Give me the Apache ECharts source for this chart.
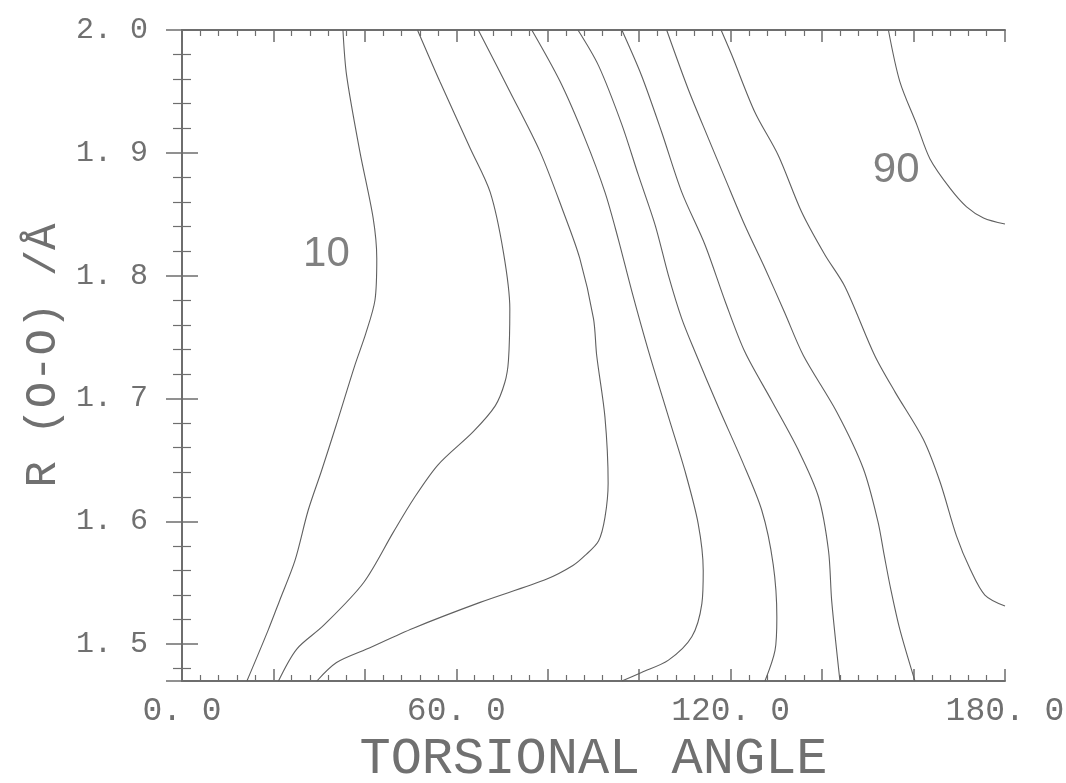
<!DOCTYPE html>
<html>
<head>
<meta charset="utf-8">
<title>Torsional angle contour</title>
<script src="https://cdn.jsdelivr.net/npm/echarts@6/dist/echarts.min.js"></script>
<style>
  html, body { margin: 0; padding: 0; background: #fff; }
  #chart { width: 1066px; height: 783px; }
</style>
</head>
<body>
<div id="chart"></div>
<script>
// contour lines: [torsional angle, R(O-O)]
const contour10 = [[35.2, 2.0], [36.0, 1.963], [38.9, 1.901], [41.8, 1.847], [42.6, 1.814], [42.2, 1.78], [40.2, 1.753], [37.8, 1.727], [33.7, 1.678], [30.5, 1.641], [27.6, 1.609], [24.7, 1.568], [21.4, 1.536], [18.8, 1.511], [14.2, 1.47]];
const contour20 = [[51.5, 2.0], [56.4, 1.958], [63.0, 1.904], [67.4, 1.868], [70.3, 1.819], [71.7, 1.773], [71.4, 1.731], [70.6, 1.713], [68.5, 1.694], [63.7, 1.673], [56.0, 1.646], [50.6, 1.618], [46.2, 1.591], [39.7, 1.55], [30.9, 1.515], [25.1, 1.496], [21.1, 1.47]];
const contour30 = [[64.8, 2.0], [71.7, 1.95], [78.3, 1.901], [83.4, 1.852], [87.0, 1.814], [90.0, 1.765], [90.7, 1.735], [92.5, 1.685], [93.2, 1.631], [92.5, 1.603], [91.1, 1.584], [88.1, 1.572], [85.5, 1.564], [79.8, 1.553], [65.2, 1.534], [50.6, 1.513], [40.4, 1.496], [33.8, 1.485], [29.5, 1.47]];
const contour40 = [[76.5, 2.0], [82.7, 1.958], [88.1, 1.912], [92.5, 1.868], [95.4, 1.83], [98.4, 1.787], [102.0, 1.739], [106.4, 1.685], [110.0, 1.641], [112.9, 1.598], [114.0, 1.56], [113.7, 1.533], [111.5, 1.506], [106.4, 1.487], [100.5, 1.477], [96.2, 1.47]];
const contour50 = [[86.6, 2.0], [91.1, 1.971], [96.2, 1.923], [99.8, 1.882], [103.5, 1.841], [106.4, 1.8], [109.3, 1.765], [112.2, 1.738], [117.3, 1.693], [122.4, 1.65], [126.8, 1.609], [129.3, 1.565], [130.1, 1.522], [129.7, 1.495], [127.5, 1.47]];
const contour60 = [[96.2, 2.0], [100.5, 1.963], [104.9, 1.917], [109.3, 1.868], [114.4, 1.825], [118.8, 1.779], [123.1, 1.738], [129.0, 1.698], [134.8, 1.658], [139.2, 1.62], [141.4, 1.576], [142.1, 1.535], [143.9, 1.47]];
const contour70 = [[106.0, 2.0], [110.7, 1.952], [115.1, 1.912], [118.8, 1.879], [123.1, 1.841], [127.5, 1.806], [131.8, 1.77], [135.9, 1.735], [143.2, 1.689], [149.0, 1.643], [152.2, 1.6], [153.6, 1.572], [155.0, 1.545], [157.0, 1.512], [160.3, 1.47]];
const contour80 = [[117.9, 2.0], [120.2, 1.98], [125.3, 1.933], [130.4, 1.898], [135.5, 1.852], [140.6, 1.817], [145.0, 1.791], [151.5, 1.735], [156.0, 1.705], [162.1, 1.667], [165.8, 1.632], [169.4, 1.588], [172.4, 1.561], [175.6, 1.54], [180.0, 1.531]];
const contour90 = [[154.5, 2.0], [157.0, 1.958], [160.7, 1.923], [163.6, 1.895], [168.0, 1.871], [171.6, 1.856], [175.3, 1.847], [180.0, 1.842]];

const contours = [contour10, contour20, contour30, contour40, contour50, contour60, contour70, contour80, contour90];

// level labels written on the plot
const levelLabels = ['10', '90'];
const levelLabelPoints = [[31.6, 1.817], [156.2, 1.886]];

// axis ranges and labelled x ticks
const xRange = [0, 180];
const yRange = [1.47, 2.0];
const xLabelled = [0, 60, 120, 180];

const axisGray = '#6e6e6e';
const textGray = '#707070';
const monoFont = '"Liberation Mono", "DejaVu Sans Mono", monospace';

// "60.0" -> "60. 0" like the plotter output
function fmt(v) {
  return v.toFixed(1).replace('.', '. ');
}

const chart = echarts.init(document.getElementById('chart'));

const lineSeries = contours.map(function (pts) {
  return {
    type: 'line',
    data: pts,
    showSymbol: false,
    smooth: 0.3,
    clip: true,
    silent: true,
    lineStyle: { color: '#606060', width: 1.1 }
  };
});

const option = {
  animation: false,
  backgroundColor: '#fff',
  grid: { left: 182, right: 61, top: 30, bottom: 102, containLabel: false, outerBoundsMode: 'none' },
  xAxis: [
    {
      type: 'value',
      min: xRange[0],
      max: xRange[1],
      interval: 20,
      name: 'TORSIONAL ANGLE',
      nameLocation: 'middle',
      nameGap: 46,
      nameTextStyle: { fontFamily: monoFont, fontSize: 52, color: textGray },
      axisLine: { show: true, lineStyle: { color: axisGray, width: 2 } },
      axisTick: { show: true, inside: true, length: 12, lineStyle: { color: axisGray, width: 1.5 } },
      minorTick: { show: true, splitNumber: 5, length: 6, lineStyle: { color: axisGray, width: 1.2 } },
      splitLine: { show: false },
      axisLabel: {
        margin: 14,
        fontFamily: monoFont,
        fontSize: 33,
        color: textGray,
        formatter: function (v) {
          return xLabelled.indexOf(v) >= 0 ? fmt(v) : '';
        }
      }
    },
    {
      type: 'value',
      position: 'top',
      min: xRange[0],
      max: xRange[1],
      interval: 20,
      axisLine: { show: true, lineStyle: { color: axisGray, width: 2 } },
      axisTick: { show: true, inside: true, length: 12, lineStyle: { color: axisGray, width: 1.5 } },
      minorTick: { show: true, splitNumber: 5, length: 6, lineStyle: { color: axisGray, width: 1.2 } },
      splitLine: { show: false },
      axisLabel: { show: false }
    }
  ],
  yAxis: [
    {
      type: 'value',
      min: yRange[0],
      max: yRange[1],
      splitNumber: 5,
      name: 'R (O-O) /Å',
      nameLocation: 'middle',
      nameGap: 112,
      nameTextStyle: { fontFamily: monoFont, fontSize: 44, color: textGray },
      axisLine: { show: true, lineStyle: { color: axisGray, width: 2 } },
      axisTick: { show: true, inside: true, length: 16, lineStyle: { color: axisGray, width: 1.5 } },
      minorTick: { show: true, splitNumber: 5, length: 9, lineStyle: { color: axisGray, width: 1.2 } },
      splitLine: { show: false },
      axisLabel: {
        margin: 34,
        fontFamily: monoFont,
        fontSize: 30,
        color: textGray,
        showMinLabel: false,
        formatter: function (v) {
          // only the tenths get a label
          return Math.abs(v * 10 - Math.round(v * 10)) < 1e-6 ? fmt(v) : '';
        }
      }
    },
    {
      type: 'value',
      position: 'right',
      min: yRange[0],
      max: yRange[1],
      splitNumber: 5,
      axisLine: { show: true, lineStyle: { color: axisGray, width: 2 } },
      axisTick: { show: true, inside: true, length: 16, lineStyle: { color: axisGray, width: 1.5 } },
      minorTick: { show: true, splitNumber: 5, length: 9, lineStyle: { color: axisGray, width: 1.2 } },
      splitLine: { show: false },
      axisLabel: { show: false }
    }
  ],
  series: lineSeries.concat([
    {
      type: 'scatter',
      data: levelLabelPoints,
      symbolSize: 0,
      silent: true,
      label: {
        show: true,
        position: 'inside',
        fontFamily: '"Liberation Sans", Arial, sans-serif',
        fontSize: 42,
        color: '#606060',
        formatter: function (p) {
          return levelLabels[p.dataIndex];
        }
      }
    }
  ])
};

chart.setOption(option);
</script>
</body>
</html>
